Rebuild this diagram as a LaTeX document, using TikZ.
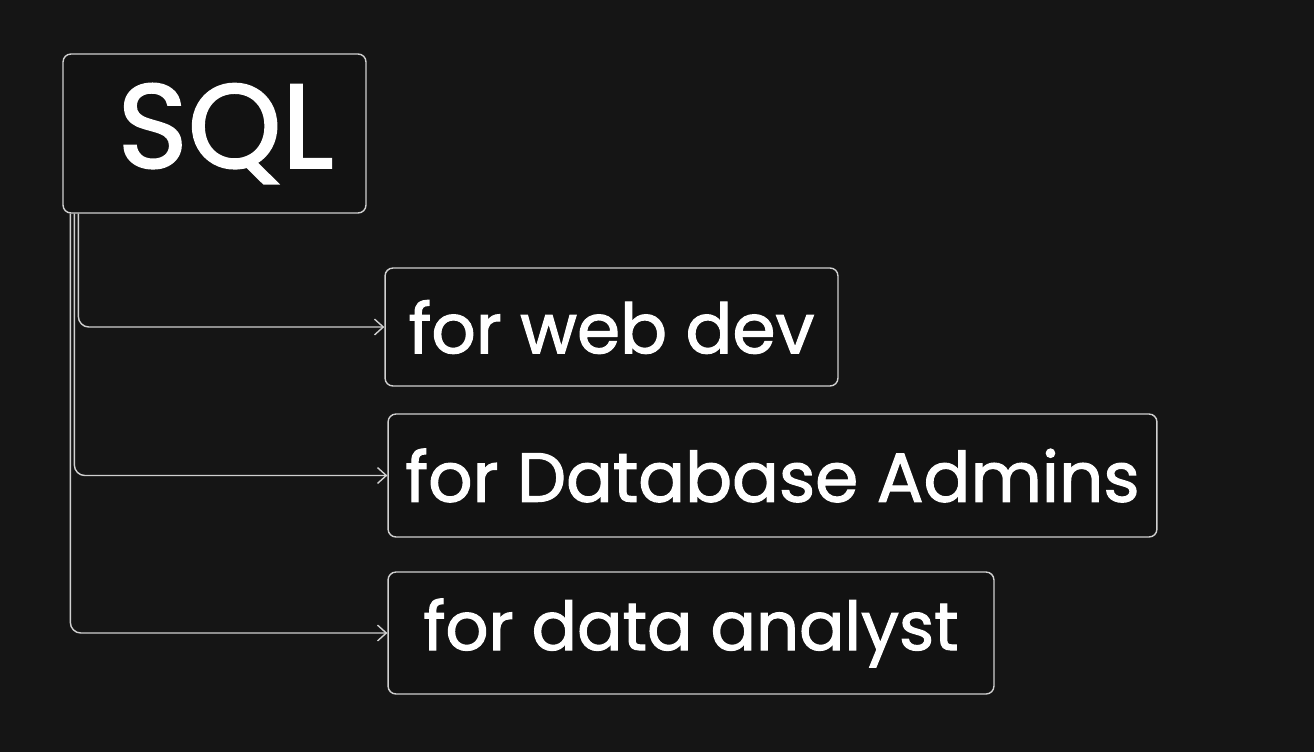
\documentclass[tikz,border=0pt]{standalone}
\usepackage{fontspec}
\setmainfont{Poppins}
\newfontfamily\handfont[FakeBold=1.6]{Poppins}
\usetikzlibrary{arrows.meta}
\definecolor{bgdark}{HTML}{151515}
\definecolor{boxdark}{HTML}{121212}
\definecolor{edge}{HTML}{D0D0D0}
\tikzset{
  >={Straight Barb[length=5pt,width=9pt]},
}
\tikzstyle{topic}=[draw=edge,line width=0.8pt,fill=boxdark,rounded corners=4.5pt,text=white,inner sep=0pt]
\tikzstyle{use}=[topic,font=\handfont\fontsize{39.5}{46}\selectfont]
\tikzstyle{link}=[draw=edge,line width=0.8pt,->,rounded corners=6pt]

\begin{document}
\begin{tikzpicture}[x=0.02cm,y=-0.02cm]
    \fill[bgdark] (0,0) rectangle (1314,752);
    \useasboundingbox (0,0) rectangle (1314,752);
    \node[topic,minimum width=6.06cm,minimum height=3.18cm,font=\handfont\fontsize{68}{74}\selectfont] (sql) at (214.5,133.5) {\hspace{0.44cm}SQL};
    \node[use,minimum width=9.06cm,minimum height=2.36cm] (web) at (611.5,327) {for web dev};
    \node[use,minimum width=15.38cm,minimum height=2.46cm] (dba) at (772.5,475.5) {for Database Admins};
    \node[use,minimum width=12.12cm,minimum height=2.44cm,font=\handfont\fontsize{38.3}{46}\selectfont] (analyst) at (691,633) {for data analyst\hspace{0.24cm}};
    \draw[link] ([xshift=0.32cm]sql.south west) |- (web.west);
    \draw[link] ([xshift=0.24cm]sql.south west) |- (dba.west);
    \draw[link] ([xshift=0.16cm]sql.south west) |- (analyst.west);
\end{tikzpicture}
\end{document}
